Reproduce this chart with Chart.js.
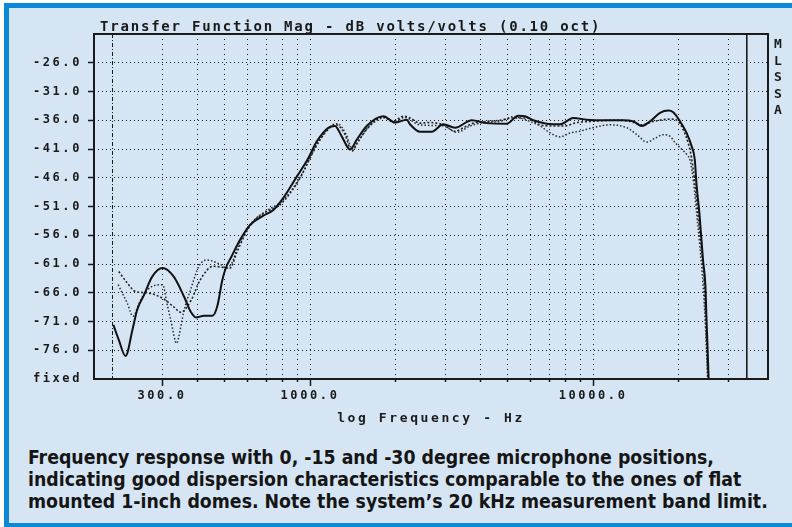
<!DOCTYPE html>
<html>
<head>
<meta charset="utf-8">
<script src="https://cdn.jsdelivr.net/npm/chart.js@4.4.1/dist/chart.umd.min.js"></script>
<style>
  html, body { margin: 0; padding: 0; background: #fff; }
  #frame {
    position: absolute; left: 4px; top: 3px; width: 783px; height: 515px;
    background: #d5e5f4;
    border-left: 5px solid #0a8ad6; border-top: 5px solid #0a8ad6; border-bottom: 4px solid #0a8ad6;
  }
  #plot { position: absolute; left: 0; top: 0; }
  #caption {
    position: absolute; left: 28px; top: 447px;
    font-family: "DejaVu Sans Condensed", "DejaVu Sans", sans-serif;
    font-stretch: condensed; font-weight: bold; font-size: 19.3px; line-height: 22px;
    color: #151515; white-space: nowrap;
  }
</style>
</head>
<body>
<div id="frame"></div>
<canvas id="plot" width="792" height="440"></canvas>
<div id="caption">Frequency response with 0, -15 and -30 degree microphone positions,<br>indicating good dispersion characteristics comparable to the ones of flat<br>mounted 1-inch domes. Note the system’s 20 kHz measurement band limit.</div>
<script>
// 0 degree (solid)
const freq0 = [202, 211, 223, 236, 245, 259, 277, 301, 330, 359, 379, 395, 422, 452, 470, 490, 504, 528, 566, 614, 684, 742, 805, 898, 986, 1056, 1160, 1225, 1294, 1385, 1462, 1586, 1815, 1997, 2196, 2256, 2446, 2693, 2958, 3255, 3727, 4215, 4955, 5443, 5747, 6152, 6860, 7653, 8509, 9500, 10587, 12796, 13889, 14867, 15900, 17240, 18440, 19200, 20300, 21400, 22290, 22880, 23180, 23800, 24460, 24950, 25150, 25400, 25600];
const db0 = [-71.6, -74.2, -77.0, -72.4, -69.0, -66.4, -63.2, -61.7, -63.2, -66.7, -69.3, -70.3, -70.0, -70.0, -68.4, -63.8, -61.7, -59.7, -56.8, -54.2, -52.6, -51.6, -49.5, -45.8, -42.6, -39.7, -37.3, -37.0, -38.8, -41.1, -39.4, -37.0, -35.3, -36.4, -35.9, -36.7, -38.0, -38.0, -36.7, -37.3, -36.0, -36.5, -36.6, -35.2, -35.3, -36.0, -36.6, -36.7, -35.6, -35.9, -36.0, -36.0, -36.2, -37.0, -36.2, -34.7, -34.3, -34.6, -36.2, -38.2, -40.5, -42.9, -46.9, -52.7, -60.3, -64.9, -70.2, -76.0, -81.0];

// -15 degree (dense dots)
const freq15 = [211, 226, 242, 265, 300, 329, 350, 381, 409, 455, 522, 550, 589, 631, 703, 783, 850, 935, 1014, 1085, 1176, 1240, 1330, 1404, 1480, 1604, 1815, 1970, 2138, 2256, 2446, 2655, 2958, 3255, 3483, 3779, 4215, 4693, 5226, 5831, 6500, 7247, 7863, 8775, 9775, 10600, 11800, 13500, 14870, 16330, 17700, 18950, 20000, 20800, 21660, 22270, 22880, 23510, 24170, 24700, 25000, 25250, 25450];
const db15 = [-62.3, -64.3, -65.8, -66.0, -66.9, -68.4, -69.4, -67.2, -63.8, -61.4, -61.7, -59.1, -55.9, -53.6, -51.9, -50.7, -48.7, -45.5, -42.0, -39.4, -37.3, -36.8, -38.5, -41.4, -39.7, -37.3, -35.4, -36.2, -35.3, -35.6, -36.5, -36.4, -36.8, -37.9, -37.3, -36.5, -36.2, -36.0, -35.6, -35.6, -36.8, -37.0, -37.0, -36.4, -36.2, -36.1, -36.0, -36.2, -36.8, -36.2, -35.9, -35.8, -36.2, -37.6, -39.9, -42.5, -46.9, -52.7, -58.5, -64.0, -70.0, -76.0, -81.0];

// -30 degree (sparse dots)
const freq30 = [210, 226, 237, 249, 266, 301, 314, 322, 338, 344, 358, 380, 405, 431, 483, 507, 530, 556, 595, 640, 710, 790, 860, 945, 1020, 1095, 1185, 1250, 1340, 1410, 1490, 1620, 1830, 1980, 2150, 2446, 2958, 3300, 3680, 4090, 4693, 5226, 5831, 6500, 7050, 7650, 8300, 8990, 9950, 11500, 13160, 14280, 15500, 16600, 17700, 18720, 19500, 20600, 21460, 22050, 22660, 23280, 23900, 24500, 24900, 25200, 25400];
const db30 = [-64.6, -67.8, -70.1, -67.8, -65.5, -64.6, -68.4, -70.7, -74.8, -73.6, -69.3, -65.2, -61.4, -60.3, -61.1, -61.7, -60.8, -58.0, -55.2, -53.2, -51.6, -50.2, -48.2, -45.0, -41.6, -39.0, -37.0, -36.6, -38.4, -41.0, -39.4, -37.0, -35.6, -36.4, -35.5, -36.8, -37.0, -38.1, -37.0, -36.4, -36.2, -35.4, -36.0, -37.0, -38.2, -38.9, -38.2, -37.9, -37.3, -36.8, -37.3, -38.5, -39.8, -39.1, -38.5, -38.8, -39.9, -41.1, -42.0, -43.1, -46.9, -52.7, -58.5, -65.0, -71.0, -77.0, -81.0];

// axes
const gridFreqs = [200, 300, 400, 500, 600, 700, 800, 900, 1000, 2000, 3000, 4000, 5000, 6000, 7000, 8000, 9000, 10000, 20000, 30000, 35000];
const xTickValues = [300, 1000, 10000];
const xTickLabels = ['300.0', '1000.0', '10000.0'];
const yTickValues = [-81, -76, -71, -66, -61, -56, -51, -46, -41, -36, -31, -26];
const yTickLabels = ['fixed', '-76.0', '-71.0', '-66.0', '-61.0', '-56.0', '-51.0', '-46.0', '-41.0', '-36.0', '-31.0', '-26.0'];
const chartTitle = 'Transfer Function Mag - dB volts/volts (0.10 oct)';
const sideLetters = ['M', 'L', 'S', 'S', 'A'];

const toPts = (f, d) => f.map((v, i) => ({ x: v, y: d[i] }));
const mono = 'DejaVu Sans Mono';
const ink = '#1a1a1a';
const clear = 'rgba(0,0,0,0)';

const decor = {
  id: 'decor',
  beforeDraw(chart) { chart.ctx.letterSpacing = '2.6px'; },
  afterDraw(chart) {
    const { ctx, chartArea: a } = chart;
    ctx.save();
    ctx.letterSpacing = '0px';
    ctx.strokeStyle = ink;
    ctx.lineWidth = 2;
    ctx.strokeRect(a.left, a.top, a.right - a.left, a.bottom - a.top);
    ctx.fillStyle = ink;
    ctx.font = 'bold 14px "' + mono + '"';
    ctx.letterSpacing = '1.8px';
    ctx.textBaseline = 'alphabetic';
    ctx.fillText(chartTitle, a.left + 6, a.top - 3);
    ctx.font = 'bold 13px "' + mono + '"';
    ctx.letterSpacing = '0px';
    ctx.textAlign = 'center';
    ctx.textBaseline = 'middle';
    sideLetters.forEach((ch, i) => ctx.fillText(ch, a.right + 10, a.top + 11 + i * 16.5));
    ctx.restore();
  }
};

new Chart(document.getElementById('plot'), {
  type: 'line',
  data: {
    datasets: [
      { label: '0 deg', data: toPts(freq0, db0), borderColor: '#111', borderWidth: 2 },
      { label: '-15 deg', data: toPts(freq15, db15), borderColor: '#222', borderWidth: 1.6, borderDash: [2, 2] },
      { label: '-30 deg', data: toPts(freq30, db30), borderColor: '#2a2a2a', borderWidth: 1.5, borderDash: [1.5, 2] }
    ]
  },
  options: {
    responsive: false,
    animation: false,
    layout: { padding: { left: 0, top: 34, right: 24, bottom: 0 } },
    elements: { point: { radius: 0 }, line: { cubicInterpolationMode: 'monotone' } },
    plugins: { legend: { display: false }, title: { display: false }, tooltip: { enabled: false } },
    scales: {
      x: {
        type: 'logarithmic',
        min: 172.5,
        max: 41500,
        afterBuildTicks: s => { s.ticks = gridFreqs.map(v => ({ value: v })); },
        afterFit: s => { s.height = 61; },
        border: {
          display: false,
          dash: c => c.tick && c.tick.value === 200 ? [4, 2, 1, 2] : (c.tick && c.tick.value === 35000 ? [] : [1, 4])
        },
        grid: {
          color: ink,
          lineWidth: c => c.tick && c.tick.value === 35000 ? 1.6 : 1,
          tickLength: 7,
          tickColor: c => c.tick && (c.tick.value === 200 || c.tick.value === 35000) ? clear : ink,
          tickWidth: 1.5,
          tickBorderDash: c => c.tick && xTickValues.includes(c.tick.value) ? [] : [3, 20]
        },
        ticks: {
          autoSkip: false,
          maxRotation: 0,
          padding: 3,
          color: ink,
          font: { family: mono, size: 12, weight: 'bold' },
          callback: v => { const i = xTickValues.indexOf(v); return i >= 0 ? xTickLabels[i] : ''; }
        },
        title: {
          display: true,
          text: 'log Frequency - Hz',
          color: ink,
          font: { family: mono, size: 13, weight: 'bold' },
          padding: { top: 0, bottom: 14 }
        }
      },
      y: {
        min: -81,
        max: -21,
        afterBuildTicks: s => { s.ticks = yTickValues.map(v => ({ value: v })); },
        afterFit: s => { s.width = 94; },
        border: { display: false, dash: [1, 3] },
        grid: {
          color: c => c.tick && c.tick.value === -81 ? clear : ink,
          lineWidth: 1,
          tickLength: 6,
          tickWidth: 1.5,
          tickColor: c => c.tick && c.tick.value === -81 ? clear : ink
        },
        ticks: {
          autoSkip: false,
          padding: 6,
          color: ink,
          font: { family: mono, size: 12, weight: 'bold' },
          callback: v => { const i = yTickValues.indexOf(v); return i >= 0 ? yTickLabels[i] : ''; }
        }
      }
    }
  },
  plugins: [decor]
});
</script>
</body>
</html>
